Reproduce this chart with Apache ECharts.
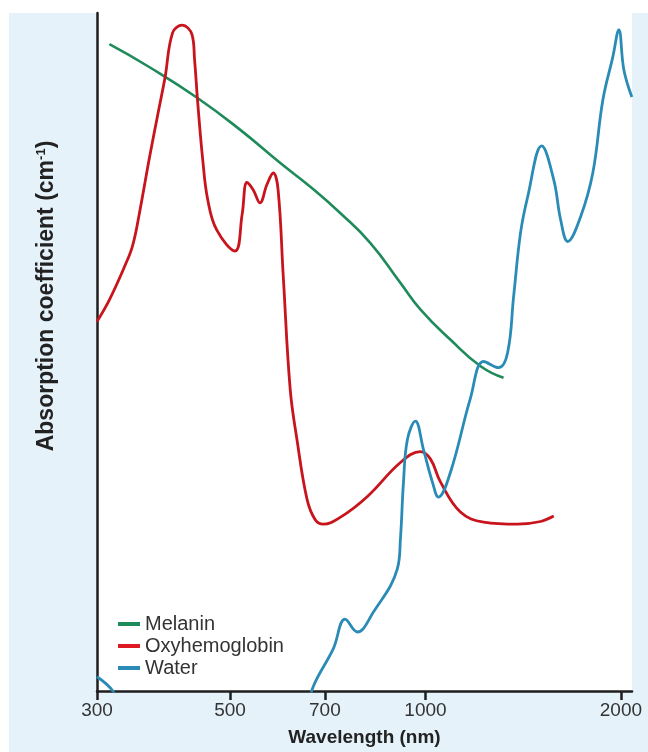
<!DOCTYPE html>
<html>
<head>
<meta charset="utf-8">
<script src="https://cdn.jsdelivr.net/npm/echarts@6/dist/echarts.min.js"></script>
<style>
html,body{margin:0;padding:0;background:#fff;}
#c{width:648px;height:752px;}
</style>
</head>
<body>
<div id="c"></div>
<script>
// Wavelength (nm) and relative absorption (arbitrary units 0-100)
const melaninWl  = [326, 376, 445, 518, 597, 664, 739, 822, 915, 982, 1093, 1216, 1319];
const melaninVal = [95.4, 92.0, 87.5, 82.8, 77.9, 74.4, 70.5, 66.1, 60.2, 56.3, 51.8, 47.9, 46.2];

const oxyWl  = [312, 326, 344, 354, 363, 376, 387, 397, 408, 422, 437, 441, 446, 454, 462, 477, 509, 522, 531, 543, 556, 570, 583, 593, 604, 619, 634, 657, 676, 696, 739, 814, 915, 982, 1018, 1055, 1132, 1229, 1386, 1504, 1576];
const oxyVal = [54.5, 57.7, 62.6, 65.7, 70.7, 78.8, 85.0, 90.4, 97.1, 98.2, 96.8, 93.1, 86.7, 78.3, 72.5, 68.0, 64.9, 70.3, 75.0, 73.9, 72.0, 74.7, 76.4, 73.9, 61.1, 44.5, 37.1, 28.3, 25.3, 24.6, 25.6, 28.7, 33.7, 35.3, 34.2, 30.8, 26.4, 24.9, 24.6, 25.0, 25.8];

const waterWl  = [312, 330, 400, 550, 650, 672, 721, 752, 785, 831, 905, 915, 925, 938, 965, 993, 1025, 1047, 1093, 1173, 1229, 1296, 1338, 1367, 1401, 1437, 1510, 1576, 1615, 1656, 1734, 1810, 1876, 1943, 1985, 2021, 2079];
const waterVal = [2.1, 0, -12, -14, -4, 0.7, 6.2, 10.6, 8.7, 11.6, 18.0, 22.4, 30.8, 37.1, 39.8, 35.6, 30.8, 28.6, 32.3, 43.2, 48.6, 47.7, 49.9, 58.2, 67.6, 72.9, 80.4, 75.4, 69.5, 66.3, 70.0, 76.4, 87.2, 93.5, 97.5, 91.6, 87.6];

const tickValues = [312, 500, 700, 1000, 2000];
const tickLabels = ['300', '500', '700', '1000', '2000'];
const seriesNames = ['Melanin', 'Oxyhemoglobin', 'Water'];

const pair = (xs, ys) => xs.map((x, i) => [x, ys[i]]);
const FONT = "'Liberation Sans', Arial, sans-serif";

const chart = echarts.init(document.getElementById('c'), null, {renderer: 'canvas'});
chart.setOption({
  backgroundColor: '#ffffff',
  animation: false,
  graphic: [{
    type: 'rect', z: -10, silent: true,
    shape: {x: 9, y: 13, width: 639, height: 739},
    style: {fill: '#e5f2f9'}
  }],
  grid: {
    left: 97, top: 13, right: 16, bottom: 60,
    show: true, backgroundColor: '#ffffff', borderWidth: 0
  },
  legend: {
    data: seriesNames,
    orient: 'vertical',
    left: 113, top: 609,
    icon: 'rect', itemWidth: 22, itemHeight: 4, itemGap: 2,
    textStyle: {fontFamily: FONT, fontSize: 20, color: '#333'}
  },
  xAxis: {
    type: 'log',
    min: 312, max: 2080,
    name: 'Wavelength (nm)',
    nameLocation: 'middle',
    nameGap: 37,
    nameTextStyle: {fontFamily: FONT, fontSize: 19, fontWeight: 'bold', color: '#222'},
    axisLine: {show: true, lineStyle: {color: '#1e1e1e', width: 2.5}},
    axisTick: {show: true, inside: false, length: 9, lineStyle: {color: '#1e1e1e', width: 2.5}, customValues: tickValues},
    axisLabel: {
      fontFamily: FONT, fontSize: 19, color: '#333', margin: 10,
      customValues: tickValues,
      formatter: (v) => {
        const i = tickValues.findIndex(t => Math.abs(t - v) < 1);
        return i >= 0 ? tickLabels[i] : '';
      }
    },
    splitLine: {show: false},
    minorTick: {show: false}
  },
  yAxis: {
    type: 'value',
    min: 0, max: 100,
    name: 'Absorption coefficient (cm{sup|-1})',
    nameLocation: 'middle',
    nameGap: 39,
    nameRotate: 90,
    nameTextStyle: {
      fontFamily: FONT, fontSize: 23, fontWeight: 'bold', color: '#222',
      padding: [0, 0, 0, 112],
      rich: {sup: {fontFamily: FONT, fontSize: 13, fontWeight: 'bold', color: '#222', verticalAlign: 'top', lineHeight: 13, padding: [0, 0, 8, 0]}}
    },
    axisLine: {show: true, lineStyle: {color: '#1e1e1e', width: 2.5}},
    axisTick: {show: false},
    axisLabel: {show: false},
    splitLine: {show: false}
  },
  series: [
    {
      name: 'Melanin', type: 'line', data: pair(melaninWl, melaninVal),
      smooth: 0.5, symbol: 'none', clip: true,
      lineStyle: {color: '#1f8a5a', width: 2.6},
      itemStyle: {color: '#1f8a5a'}
    },
    {
      name: 'Oxyhemoglobin', type: 'line', data: pair(oxyWl, oxyVal),
      smooth: 0.4, symbol: 'none', clip: true,
      lineStyle: {color: '#c8141c', width: 2.8},
      itemStyle: {color: '#dd1a22'}
    },
    {
      name: 'Water', type: 'line', data: pair(waterWl, waterVal),
      smooth: 0.4, symbol: 'none', clip: true,
      lineStyle: {color: '#2a8bb6', width: 2.8},
      itemStyle: {color: '#2a8bb6'}
    }
  ]
});
</script>
</body>
</html>
